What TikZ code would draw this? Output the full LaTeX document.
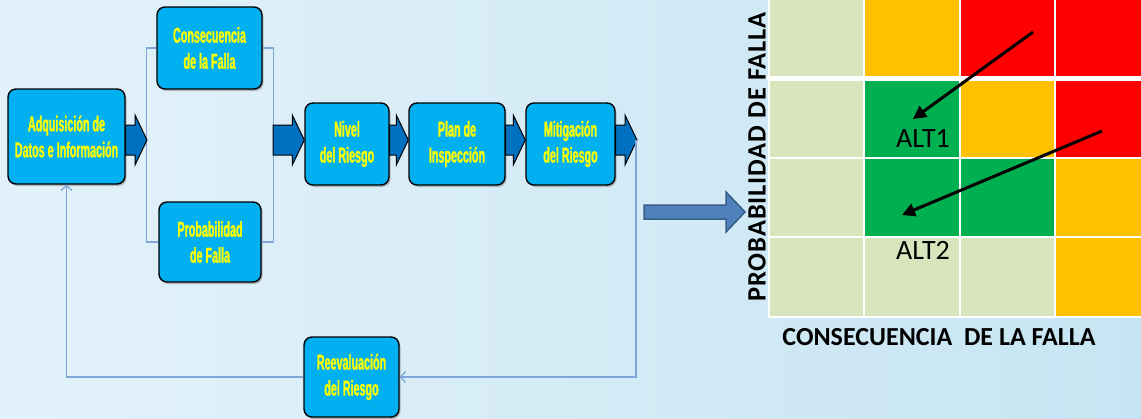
\documentclass[tikz,border=0pt]{standalone}
\usepackage{fontspec}
\usetikzlibrary{calc,shadows,arrows.meta}
\newfontfamily\boxfont[FakeStretch=0.5,FakeBold=1]{Liberation Sans}
\newfontfamily\calfont{Carlito}
\newfontfamily\calspaced[LetterSpace=3.5]{Carlito}
\definecolor{bgL}{HTML}{E3F2FA}
\definecolor{bgR}{HTML}{C6E5F2}
\definecolor{boxcyan}{HTML}{00B0F0}
\definecolor{boxyellow}{HTML}{FFFF00}
\definecolor{arrowblue}{HTML}{0070C0}
\definecolor{lineblue}{HTML}{7EA6D8}
\definecolor{bigfill}{HTML}{4F81BD}
\definecolor{bigline}{HTML}{385D8A}
\definecolor{cbeige}{HTML}{D8E4BC}
\definecolor{corange}{HTML}{FFC000}
\definecolor{cred}{HTML}{FF0000}
\definecolor{cgreen}{HTML}{00B050}
\newcommand\blockarrow[6]{%
  \path[#1] let \p1=(#2), \p2=(#3) in
    (\x1,\y1+#4) -- (\x2-#6,\y1+#4) -- (\x2-#6,\y1+#5) -- (\x2,\y1)
    -- (\x2-#6,\y1-#5) -- (\x2-#6,\y1-#4) -- (\x1,\y1-#4) -- cycle;}
\begin{document}
\begin{tikzpicture}[x=1pt,y=-1pt,
  box/.style={rectangle, rounded corners=8pt, fill=boxcyan, draw=black,
    line width=1.4pt, text=boxyellow, align=center, inner sep=0pt,
    font=\boxfont\bfseries\fontsize{21.5}{26}\selectfont,
    drop shadow={shadow xshift=1.5pt, shadow yshift=-2pt, opacity=0.5}},
  barrowstyle/.style={fill=arrowblue, draw=black, line width=1pt},
  bigarrowstyle/.style={fill=bigfill, draw=bigline, line width=1.5pt},
  fbline/.style={draw=lineblue, line width=1.3pt},
  tip/.style={-{Straight Barb[length=5pt,width=11pt]}},
  cell/.style={draw=white, line width=2pt},
  altarrow/.style={line width=3pt, -{Triangle[length=13pt,width=13pt]}},
  alttext/.style={font=\calfont\fontsize{28}{30}\selectfont, text=black},
  axtext/.style={font=\calfont\bfseries\fontsize{26}{28}\selectfont, text=black},
  yaxtext/.style={font=\calspaced\bfseries\fontsize{26.5}{28}\selectfont, text=black}]
\useasboundingbox (0,0) rectangle (1141,418);
\clip (0,0) rectangle (1141,418);
\shade[left color=bgL, right color=bgR] (0,0) rectangle (1141,418);

% process boxes
\node[box, minimum width=117pt, minimum height=95pt] (adq) at (66.5,136.5) {Adquisición de\\Datos e Información};
\node[box, minimum width=105pt, minimum height=82pt] (cons) at (209.5,48) {Consecuencia\\de la Falla};
\node[box, minimum width=102pt, minimum height=80pt] (prob) at (210,242) {Probabilidad\\de Falla};
\node[box, minimum width=84pt, minimum height=82pt] (niv) at (347,144) {Nivel\\del Riesgo};
\node[box, minimum width=96pt, minimum height=82pt] (plan) at (457,144) {Plan de\\Inspección};
\node[box, minimum width=89pt, minimum height=82pt] (mit) at (570.5,144) {Mitigación\\del Riesgo};
\node[box, minimum width=95pt, minimum height=80pt] (reev) at (351.5,377) {Reevaluación\\del Riesgo};

% bracket lines
\draw[fbline] (cons.west) -- ++(-10,0) |- (prob.west);
\draw[fbline] (cons.east) -- ++(11,0) |- (prob.east);

\coordinate (bl) at (147,140);
\coordinate (br) at (273,140);
\coordinate (fb) at (637,140);

% block arrows
\blockarrow{barrowstyle}{adq.east |- bl}{bl}{15pt}{25pt}{12pt}
\blockarrow{barrowstyle}{br}{niv.west |- br}{15pt}{25pt}{12pt}
\blockarrow{barrowstyle}{niv.east |- br}{plan.west |- br}{15pt}{25pt}{12pt}
\blockarrow{barrowstyle}{plan.east |- br}{mit.west |- br}{15pt}{25pt}{12pt}
\blockarrow{barrowstyle}{mit.east |- br}{fb}{15pt}{25pt}{12pt}

% feedback loop
\draw[fbline, tip] ([xshift=-1pt]fb) |- (reev.east);
\draw[fbline, tip] (reev.west) -| (adq.south);

% risk matrix
\foreach \c/\r/\col in {0/0/cbeige,1/0/corange,2/0/cred,3/0/cred,
                       0/1/cbeige,1/1/cgreen,2/1/corange,3/1/cred,
                       0/2/cbeige,1/2/cgreen,2/2/cgreen,3/2/corange,
                       0/3/cbeige,1/3/cbeige,2/3/cbeige,3/3/corange}{
  \pgfmathsetmacro\xa{769+95.3*\c}
  \pgfmathsetmacro\ya{(\r==0 ? -3 : (\r==1 ? 77 : (\r==2 ? 158 : 237)))}
  \pgfmathsetmacro\yb{(\r==0 ? 77 : (\r==1 ? 158 : (\r==2 ? 237 : 317)))}
  \filldraw[cell, fill=\col] (\xa,\ya) rectangle ({\xa+95.3},\yb);
}
\draw[white, line width=5pt] (767,78) -- (1150,78);

% big arrow into matrix
\coordinate (bigS) at (644,212);
\coordinate (bigE) at (745,212);
\blockarrow{bigarrowstyle}{bigS}{bigE}{7pt}{20pt}{19pt}

% labels
\node[alttext] (alt1) at (923,138) {ALT1};
\node[alttext] (alt2) at (923,250) {ALT2};
\coordinate (a1s) at (1033,32);
\coordinate (a1e) at (913,119);
\coordinate (a2s) at (1102,131);
\coordinate (a2e) at (902,215);
\draw[altarrow] (a1s) -- (a1e);
\draw[altarrow] (a2s) -- (a2e);

\node[yaxtext, rotate=90] (ylab) at (757,157) {PROBABILIDAD DE FALLA};
\node[axtext] (xlab) at (939,337) {CONSECUENCIA\ \ DE LA FALLA};
\end{tikzpicture}
\end{document}
